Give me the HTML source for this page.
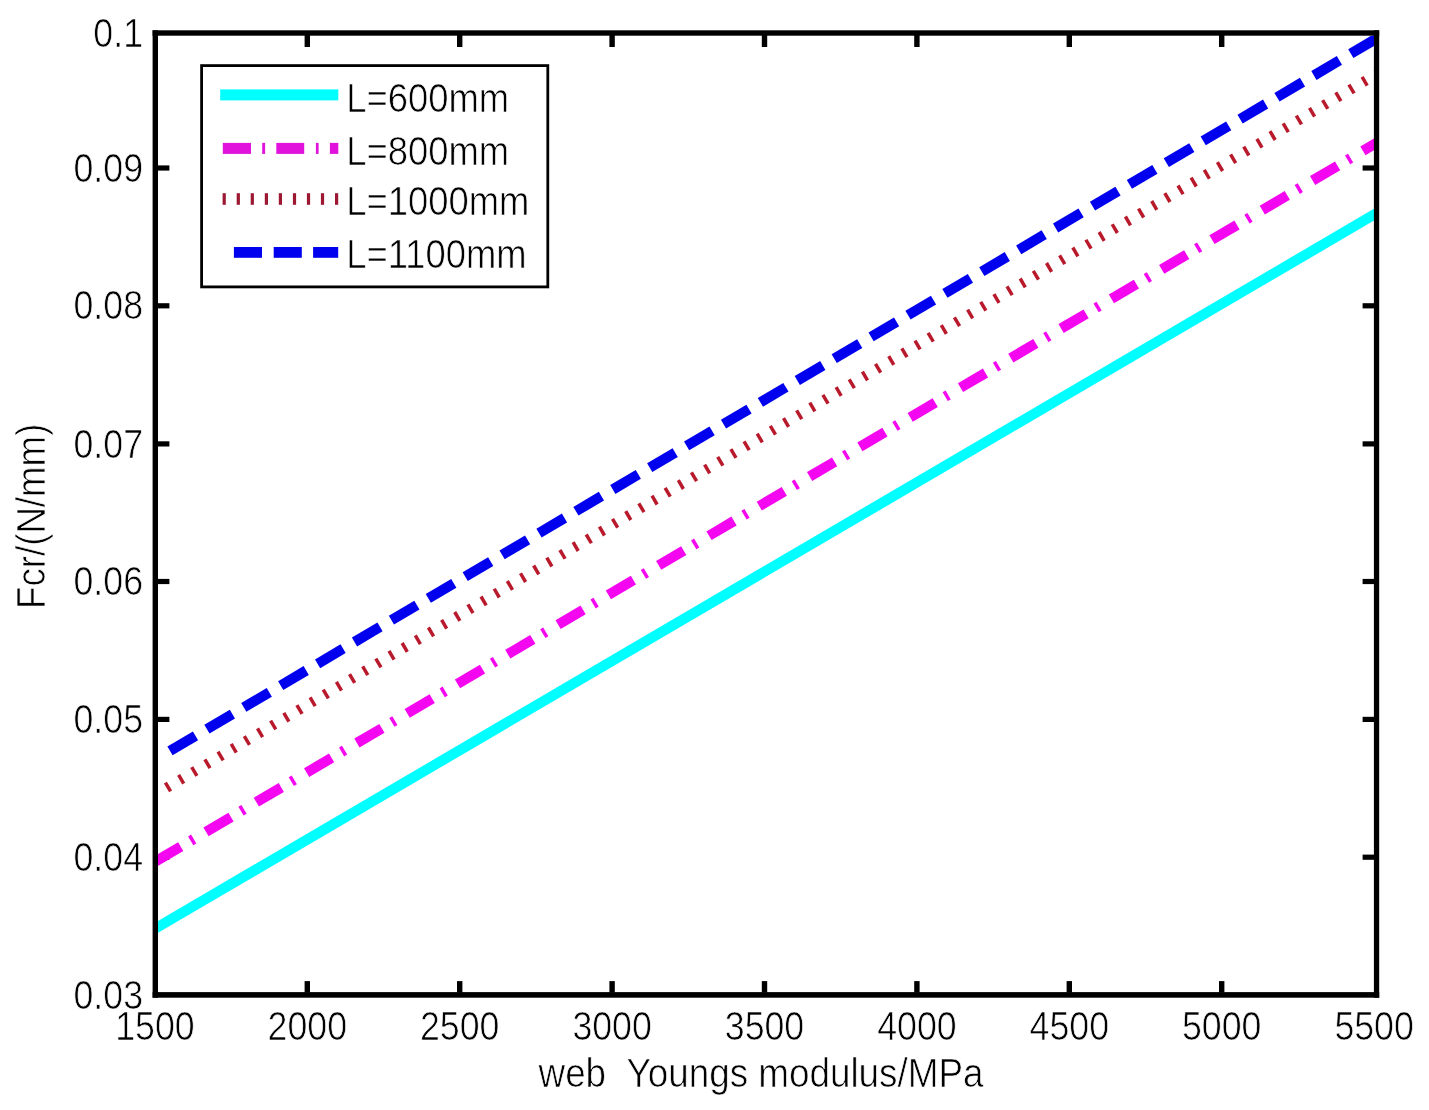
<!DOCTYPE html>
<html><head><meta charset="utf-8"><style>html,body{margin:0;padding:0;background:#fff;width:1429px;height:1110px;overflow:hidden}</style></head>
<body>
<svg width="1429" height="1110" viewBox="0 0 1429 1110" style="position:absolute;left:0;top:0;will-change:transform">
<rect x="0" y="0" width="1429" height="1110" fill="#fff"/>
<rect x="304.6" y="981.1" width="5.4" height="11.5" fill="#000"/>
<rect x="304.6" y="35" width="5.4" height="12" fill="#000"/>
<rect x="457.0" y="981.1" width="5.4" height="11.5" fill="#000"/>
<rect x="457.0" y="35" width="5.4" height="12" fill="#000"/>
<rect x="609.4" y="981.1" width="5.4" height="11.5" fill="#000"/>
<rect x="609.4" y="35" width="5.4" height="12" fill="#000"/>
<rect x="761.8" y="981.1" width="5.4" height="11.5" fill="#000"/>
<rect x="761.8" y="35" width="5.4" height="12" fill="#000"/>
<rect x="914.2" y="981.1" width="5.4" height="11.5" fill="#000"/>
<rect x="914.2" y="35" width="5.4" height="12" fill="#000"/>
<rect x="1066.6" y="981.1" width="5.4" height="11.5" fill="#000"/>
<rect x="1066.6" y="35" width="5.4" height="12" fill="#000"/>
<rect x="1219.0" y="981.1" width="5.4" height="11.5" fill="#000"/>
<rect x="1219.0" y="35" width="5.4" height="12" fill="#000"/>
<rect x="157" y="165.4" width="12.4" height="5.2" fill="#000"/>
<rect x="1362.6" y="165.4" width="12" height="5.2" fill="#000"/>
<rect x="157" y="303.2" width="12.4" height="5.2" fill="#000"/>
<rect x="1362.6" y="303.2" width="12" height="5.2" fill="#000"/>
<rect x="157" y="441.3" width="12.4" height="5.2" fill="#000"/>
<rect x="1362.6" y="441.3" width="12" height="5.2" fill="#000"/>
<rect x="157" y="578.9" width="12.4" height="5.2" fill="#000"/>
<rect x="1362.6" y="578.9" width="12" height="5.2" fill="#000"/>
<rect x="157" y="716.8" width="12.4" height="5.2" fill="#000"/>
<rect x="1362.6" y="716.8" width="12" height="5.2" fill="#000"/>
<rect x="157" y="854.6" width="12.4" height="5.2" fill="#000"/>
<rect x="1362.6" y="854.6" width="12" height="5.2" fill="#000"/>
<defs><clipPath id="ax"><rect x="158" y="35.6" width="1216" height="956.5"/></clipPath></defs><g clip-path="url(#ax)">
<polygon points="158.1,932.8 1379.1,217.6 1373.9,208.8 152.9,924.0" fill="#00ffff"/>
<polygon points="158.3,865.8 183.3,851.1 178.1,842.3 153.1,857.0" fill="#f406f0"/>
<polygon points="193.3,845.2 196.3,843.4 191.1,834.6 188.1,836.4" fill="#f406f0"/>
<polygon points="208.6,836.2 233.6,821.5 228.4,812.7 203.4,827.4" fill="#f406f0"/>
<polygon points="243.6,815.6 246.6,813.8 241.4,805.0 238.4,806.8" fill="#f406f0"/>
<polygon points="258.9,806.6 283.9,791.9 278.7,783.1 253.7,797.8" fill="#f406f0"/>
<polygon points="293.9,786.0 296.9,784.2 291.7,775.4 288.7,777.2" fill="#f406f0"/>
<polygon points="309.2,777.0 334.2,762.3 329.0,753.5 304.0,768.2" fill="#f406f0"/>
<polygon points="344.2,756.4 347.2,754.6 342.0,745.8 339.0,747.6" fill="#f406f0"/>
<polygon points="359.5,747.4 384.5,732.7 379.3,723.9 354.3,738.6" fill="#f406f0"/>
<polygon points="394.5,726.8 397.5,725.0 392.3,716.2 389.3,718.0" fill="#f406f0"/>
<polygon points="409.8,717.8 434.8,703.1 429.6,694.3 404.6,709.0" fill="#f406f0"/>
<polygon points="444.8,697.2 447.8,695.4 442.6,686.6 439.6,688.4" fill="#f406f0"/>
<polygon points="460.1,688.2 485.1,673.4 479.9,664.7 454.9,679.4" fill="#f406f0"/>
<polygon points="495.1,667.6 498.1,665.8 492.9,657.0 489.9,658.8" fill="#f406f0"/>
<polygon points="510.4,658.6 535.4,643.8 530.2,635.1 505.2,649.8" fill="#f406f0"/>
<polygon points="545.4,638.0 548.4,636.2 543.2,627.4 540.2,629.2" fill="#f406f0"/>
<polygon points="560.7,629.0 585.7,614.2 580.5,605.5 555.5,620.2" fill="#f406f0"/>
<polygon points="595.7,608.4 598.7,606.6 593.5,597.8 590.5,599.6" fill="#f406f0"/>
<polygon points="611.0,599.3 636.0,584.6 630.8,575.8 605.8,590.6" fill="#f406f0"/>
<polygon points="646.0,578.8 649.0,577.0 643.8,568.2 640.8,570.0" fill="#f406f0"/>
<polygon points="661.3,569.7 686.3,555.0 681.1,546.2 656.1,561.0" fill="#f406f0"/>
<polygon points="696.3,549.2 699.3,547.4 694.1,538.6 691.1,540.4" fill="#f406f0"/>
<polygon points="711.6,540.1 736.6,525.4 731.4,516.6 706.4,531.4" fill="#f406f0"/>
<polygon points="746.6,519.5 749.6,517.8 744.4,509.0 741.4,510.8" fill="#f406f0"/>
<polygon points="761.9,510.5 786.9,495.8 781.7,487.0 756.7,501.7" fill="#f406f0"/>
<polygon points="796.9,489.9 799.9,488.2 794.7,479.4 791.7,481.2" fill="#f406f0"/>
<polygon points="812.2,480.9 837.2,466.2 832.0,457.4 807.0,472.1" fill="#f406f0"/>
<polygon points="847.2,460.3 850.2,458.6 845.0,449.8 842.0,451.6" fill="#f406f0"/>
<polygon points="862.5,451.3 887.5,436.6 882.3,427.8 857.3,442.5" fill="#f406f0"/>
<polygon points="897.5,430.7 900.5,429.0 895.3,420.2 892.3,421.9" fill="#f406f0"/>
<polygon points="912.8,421.7 937.8,407.0 932.6,398.2 907.6,412.9" fill="#f406f0"/>
<polygon points="947.8,401.1 950.8,399.4 945.6,390.6 942.6,392.3" fill="#f406f0"/>
<polygon points="963.1,392.1 988.1,377.4 982.9,368.6 957.9,383.3" fill="#f406f0"/>
<polygon points="998.1,371.5 1001.1,369.8 995.9,361.0 992.9,362.7" fill="#f406f0"/>
<polygon points="1013.4,362.5 1038.4,347.8 1033.2,339.0 1008.2,353.7" fill="#f406f0"/>
<polygon points="1048.4,341.9 1051.4,340.2 1046.2,331.4 1043.2,333.1" fill="#f406f0"/>
<polygon points="1063.7,332.9 1088.7,318.2 1083.5,309.4 1058.5,324.1" fill="#f406f0"/>
<polygon points="1098.7,312.3 1101.7,310.5 1096.5,301.8 1093.5,303.5" fill="#f406f0"/>
<polygon points="1114.0,303.3 1139.0,288.6 1133.8,279.8 1108.8,294.5" fill="#f406f0"/>
<polygon points="1149.0,282.7 1152.0,280.9 1146.8,272.2 1143.8,273.9" fill="#f406f0"/>
<polygon points="1164.3,273.7 1189.3,259.0 1184.1,250.2 1159.1,264.9" fill="#f406f0"/>
<polygon points="1199.3,253.1 1202.3,251.3 1197.1,242.6 1194.1,244.3" fill="#f406f0"/>
<polygon points="1214.6,244.1 1239.6,229.4 1234.4,220.6 1209.4,235.3" fill="#f406f0"/>
<polygon points="1249.6,223.5 1252.6,221.7 1247.4,212.9 1244.4,214.7" fill="#f406f0"/>
<polygon points="1264.9,214.5 1289.9,199.8 1284.7,191.0 1259.7,205.7" fill="#f406f0"/>
<polygon points="1299.9,193.9 1302.9,192.1 1297.7,183.3 1294.7,185.1" fill="#f406f0"/>
<polygon points="1315.2,184.9 1340.2,170.2 1335.0,161.4 1310.0,176.1" fill="#f406f0"/>
<polygon points="1350.2,164.3 1353.2,162.5 1348.0,153.7 1345.0,155.5" fill="#f406f0"/>
<polygon points="1365.5,155.3 1379.1,147.3 1373.9,138.5 1360.3,146.5" fill="#f406f0"/>
<polygon points="169.1,792.3 172.1,790.5 166.9,781.7 163.9,783.5" fill="#b81a2c"/>
<polygon points="182.2,784.6 185.2,782.8 180.1,774.0 177.1,775.8" fill="#b81a2c"/>
<polygon points="195.4,776.8 198.4,775.0 193.2,766.2 190.2,768.0" fill="#b81a2c"/>
<polygon points="208.5,769.0 211.5,767.3 206.4,758.5 203.4,760.3" fill="#b81a2c"/>
<polygon points="221.7,761.3 224.7,759.5 219.5,750.7 216.5,752.5" fill="#b81a2c"/>
<polygon points="234.8,753.5 237.8,751.8 232.7,743.0 229.7,744.7" fill="#b81a2c"/>
<polygon points="248.0,745.8 251.0,744.0 245.8,735.2 242.8,737.0" fill="#b81a2c"/>
<polygon points="261.1,738.0 264.1,736.2 259.0,727.5 256.0,729.2" fill="#b81a2c"/>
<polygon points="274.3,730.3 277.3,728.5 272.1,719.7 269.1,721.5" fill="#b81a2c"/>
<polygon points="287.4,722.5 290.4,720.7 285.3,711.9 282.3,713.7" fill="#b81a2c"/>
<polygon points="300.6,714.8 303.6,713.0 298.4,704.2 295.4,706.0" fill="#b81a2c"/>
<polygon points="313.7,707.0 316.7,705.2 311.6,696.4 308.6,698.2" fill="#b81a2c"/>
<polygon points="326.9,699.2 329.9,697.5 324.7,688.7 321.7,690.5" fill="#b81a2c"/>
<polygon points="340.0,691.5 343.0,689.7 337.9,680.9 334.9,682.7" fill="#b81a2c"/>
<polygon points="353.2,683.7 356.2,682.0 351.0,673.2 348.0,674.9" fill="#b81a2c"/>
<polygon points="366.3,676.0 369.3,674.2 364.2,665.4 361.2,667.2" fill="#b81a2c"/>
<polygon points="379.5,668.2 382.5,666.4 377.3,657.7 374.3,659.4" fill="#b81a2c"/>
<polygon points="392.6,660.5 395.6,658.7 390.5,649.9 387.5,651.7" fill="#b81a2c"/>
<polygon points="405.8,652.7 408.8,650.9 403.6,642.1 400.6,643.9" fill="#b81a2c"/>
<polygon points="418.9,645.0 421.9,643.2 416.8,634.4 413.8,636.2" fill="#b81a2c"/>
<polygon points="432.1,637.2 435.1,635.4 429.9,626.6 426.9,628.4" fill="#b81a2c"/>
<polygon points="445.2,629.4 448.2,627.7 443.1,618.9 440.1,620.7" fill="#b81a2c"/>
<polygon points="458.4,621.7 461.4,619.9 456.2,611.1 453.2,612.9" fill="#b81a2c"/>
<polygon points="471.5,613.9 474.5,612.2 469.4,603.4 466.4,605.2" fill="#b81a2c"/>
<polygon points="484.7,606.2 487.7,604.4 482.5,595.6 479.5,597.4" fill="#b81a2c"/>
<polygon points="497.8,598.4 500.8,596.6 495.7,587.9 492.7,589.6" fill="#b81a2c"/>
<polygon points="511.0,590.7 514.0,588.9 508.8,580.1 505.8,581.9" fill="#b81a2c"/>
<polygon points="524.1,582.9 527.1,581.1 522.0,572.4 519.0,574.1" fill="#b81a2c"/>
<polygon points="537.3,575.2 540.3,573.4 535.1,564.6 532.1,566.4" fill="#b81a2c"/>
<polygon points="550.4,567.4 553.4,565.6 548.3,556.8 545.3,558.6" fill="#b81a2c"/>
<polygon points="563.6,559.6 566.6,557.9 561.4,549.1 558.4,550.9" fill="#b81a2c"/>
<polygon points="576.7,551.9 579.7,550.1 574.6,541.3 571.6,543.1" fill="#b81a2c"/>
<polygon points="589.9,544.1 592.9,542.4 587.7,533.6 584.7,535.4" fill="#b81a2c"/>
<polygon points="603.0,536.4 606.0,534.6 600.9,525.8 597.9,527.6" fill="#b81a2c"/>
<polygon points="616.2,528.6 619.2,526.8 614.0,518.1 611.0,519.8" fill="#b81a2c"/>
<polygon points="629.3,520.9 632.3,519.1 627.2,510.3 624.2,512.1" fill="#b81a2c"/>
<polygon points="642.5,513.1 645.5,511.3 640.3,502.6 637.3,504.3" fill="#b81a2c"/>
<polygon points="655.6,505.4 658.6,503.6 653.5,494.8 650.5,496.6" fill="#b81a2c"/>
<polygon points="668.8,497.6 671.8,495.8 666.6,487.0 663.6,488.8" fill="#b81a2c"/>
<polygon points="681.9,489.9 684.9,488.1 679.8,479.3 676.8,481.1" fill="#b81a2c"/>
<polygon points="695.1,482.1 698.1,480.3 692.9,471.5 689.9,473.3" fill="#b81a2c"/>
<polygon points="708.2,474.3 711.2,472.6 706.1,463.8 703.1,465.6" fill="#b81a2c"/>
<polygon points="721.4,466.6 724.4,464.8 719.2,456.0 716.2,457.8" fill="#b81a2c"/>
<polygon points="734.5,458.8 737.5,457.1 732.4,448.3 729.4,450.0" fill="#b81a2c"/>
<polygon points="747.7,451.1 750.7,449.3 745.5,440.5 742.5,442.3" fill="#b81a2c"/>
<polygon points="760.8,443.3 763.8,441.5 758.7,432.8 755.7,434.5" fill="#b81a2c"/>
<polygon points="774.0,435.6 777.0,433.8 771.8,425.0 768.8,426.8" fill="#b81a2c"/>
<polygon points="787.1,427.8 790.1,426.0 785.0,417.2 782.0,419.0" fill="#b81a2c"/>
<polygon points="800.3,420.1 803.3,418.3 798.1,409.5 795.1,411.3" fill="#b81a2c"/>
<polygon points="813.4,412.3 816.4,410.5 811.3,401.7 808.3,403.5" fill="#b81a2c"/>
<polygon points="826.6,404.5 829.6,402.8 824.4,394.0 821.4,395.8" fill="#b81a2c"/>
<polygon points="839.7,396.8 842.7,395.0 837.6,386.2 834.6,388.0" fill="#b81a2c"/>
<polygon points="852.9,389.0 855.9,387.3 850.7,378.5 847.7,380.2" fill="#b81a2c"/>
<polygon points="866.0,381.3 869.0,379.5 863.9,370.7 860.9,372.5" fill="#b81a2c"/>
<polygon points="879.2,373.5 882.2,371.7 877.0,363.0 874.0,364.7" fill="#b81a2c"/>
<polygon points="892.3,365.8 895.3,364.0 890.2,355.2 887.2,357.0" fill="#b81a2c"/>
<polygon points="905.5,358.0 908.5,356.2 903.3,347.4 900.3,349.2" fill="#b81a2c"/>
<polygon points="918.6,350.3 921.6,348.5 916.5,339.7 913.5,341.5" fill="#b81a2c"/>
<polygon points="931.8,342.5 934.8,340.7 929.6,331.9 926.6,333.7" fill="#b81a2c"/>
<polygon points="944.9,334.7 947.9,333.0 942.8,324.2 939.8,326.0" fill="#b81a2c"/>
<polygon points="958.1,327.0 961.1,325.2 955.9,316.4 952.9,318.2" fill="#b81a2c"/>
<polygon points="971.2,319.2 974.2,317.5 969.1,308.7 966.1,310.4" fill="#b81a2c"/>
<polygon points="984.4,311.5 987.4,309.7 982.2,300.9 979.2,302.7" fill="#b81a2c"/>
<polygon points="997.5,303.7 1000.5,301.9 995.4,293.2 992.4,294.9" fill="#b81a2c"/>
<polygon points="1010.7,296.0 1013.7,294.2 1008.5,285.4 1005.5,287.2" fill="#b81a2c"/>
<polygon points="1023.8,288.2 1026.8,286.4 1021.7,277.6 1018.7,279.4" fill="#b81a2c"/>
<polygon points="1037.0,280.5 1040.0,278.7 1034.8,269.9 1031.8,271.7" fill="#b81a2c"/>
<polygon points="1050.1,272.7 1053.1,270.9 1048.0,262.1 1045.0,263.9" fill="#b81a2c"/>
<polygon points="1063.3,264.9 1066.3,263.2 1061.1,254.4 1058.1,256.2" fill="#b81a2c"/>
<polygon points="1076.4,257.2 1079.4,255.4 1074.3,246.6 1071.3,248.4" fill="#b81a2c"/>
<polygon points="1089.6,249.4 1092.6,247.7 1087.4,238.9 1084.4,240.6" fill="#b81a2c"/>
<polygon points="1102.7,241.7 1105.7,239.9 1100.6,231.1 1097.6,232.9" fill="#b81a2c"/>
<polygon points="1115.9,233.9 1118.9,232.1 1113.7,223.4 1110.7,225.1" fill="#b81a2c"/>
<polygon points="1129.0,226.2 1132.0,224.4 1126.9,215.6 1123.9,217.4" fill="#b81a2c"/>
<polygon points="1142.2,218.4 1145.2,216.6 1140.0,207.8 1137.0,209.6" fill="#b81a2c"/>
<polygon points="1155.3,210.7 1158.3,208.9 1153.2,200.1 1150.2,201.9" fill="#b81a2c"/>
<polygon points="1168.5,202.9 1171.5,201.1 1166.3,192.3 1163.3,194.1" fill="#b81a2c"/>
<polygon points="1181.6,195.1 1184.6,193.4 1179.5,184.6 1176.5,186.4" fill="#b81a2c"/>
<polygon points="1194.8,187.4 1197.8,185.6 1192.6,176.8 1189.6,178.6" fill="#b81a2c"/>
<polygon points="1207.9,179.6 1210.9,177.9 1205.8,169.1 1202.8,170.8" fill="#b81a2c"/>
<polygon points="1221.1,171.9 1224.1,170.1 1218.9,161.3 1215.9,163.1" fill="#b81a2c"/>
<polygon points="1234.2,164.1 1237.2,162.3 1232.1,153.6 1229.1,155.3" fill="#b81a2c"/>
<polygon points="1247.4,156.4 1250.4,154.6 1245.2,145.8 1242.2,147.6" fill="#b81a2c"/>
<polygon points="1260.5,148.6 1263.5,146.8 1258.4,138.0 1255.4,139.8" fill="#b81a2c"/>
<polygon points="1273.7,140.9 1276.7,139.1 1271.5,130.3 1268.5,132.1" fill="#b81a2c"/>
<polygon points="1286.8,133.1 1289.8,131.3 1284.7,122.5 1281.7,124.3" fill="#b81a2c"/>
<polygon points="1300.0,125.3 1303.0,123.6 1297.8,114.8 1294.8,116.6" fill="#b81a2c"/>
<polygon points="1313.1,117.6 1316.1,115.8 1311.0,107.0 1308.0,108.8" fill="#b81a2c"/>
<polygon points="1326.3,109.8 1329.3,108.1 1324.1,99.3 1321.1,101.1" fill="#b81a2c"/>
<polygon points="1339.4,102.1 1342.4,100.3 1337.3,91.5 1334.3,93.3" fill="#b81a2c"/>
<polygon points="1352.6,94.3 1355.6,92.5 1350.4,83.8 1347.4,85.5" fill="#b81a2c"/>
<polygon points="1365.7,86.6 1368.7,84.8 1363.6,76.0 1360.6,77.8" fill="#b81a2c"/>
<polygon points="1378.9,78.8 1379.1,78.7 1373.9,69.9 1373.7,70.0" fill="#b81a2c"/>
<polygon points="172.6,755.3 198.1,740.3 192.9,731.5 167.4,746.5" fill="#0000ee"/>
<polygon points="209.5,733.5 235.0,718.5 229.8,709.7 204.3,724.8" fill="#0000ee"/>
<polygon points="246.4,711.8 271.9,696.7 266.7,687.9 241.2,703.0" fill="#0000ee"/>
<polygon points="283.3,690.0 308.8,674.9 303.6,666.1 278.1,681.2" fill="#0000ee"/>
<polygon points="320.2,668.2 345.7,653.1 340.5,644.3 315.0,659.4" fill="#0000ee"/>
<polygon points="357.1,646.4 382.6,631.3 377.4,622.5 351.9,637.6" fill="#0000ee"/>
<polygon points="394.0,624.6 419.5,609.5 414.3,600.8 388.8,615.8" fill="#0000ee"/>
<polygon points="430.9,602.8 456.4,587.8 451.2,579.0 425.7,594.0" fill="#0000ee"/>
<polygon points="467.8,581.0 493.3,566.0 488.1,557.2 462.6,572.2" fill="#0000ee"/>
<polygon points="504.7,559.2 530.2,544.2 525.0,535.4 499.5,550.4" fill="#0000ee"/>
<polygon points="541.6,537.4 567.1,522.4 561.9,513.6 536.4,528.7" fill="#0000ee"/>
<polygon points="578.5,515.6 604.0,500.6 598.8,491.8 573.3,506.9" fill="#0000ee"/>
<polygon points="615.4,493.9 640.9,478.8 635.7,470.0 610.2,485.1" fill="#0000ee"/>
<polygon points="652.3,472.1 677.8,457.0 672.6,448.2 647.1,463.3" fill="#0000ee"/>
<polygon points="689.2,450.3 714.7,435.2 709.5,426.4 684.0,441.5" fill="#0000ee"/>
<polygon points="726.1,428.5 751.6,413.4 746.4,404.7 720.9,419.7" fill="#0000ee"/>
<polygon points="763.0,406.7 788.5,391.6 783.3,382.9 757.8,397.9" fill="#0000ee"/>
<polygon points="799.9,384.9 825.4,369.9 820.2,361.1 794.7,376.1" fill="#0000ee"/>
<polygon points="836.8,363.1 862.3,348.1 857.1,339.3 831.6,354.3" fill="#0000ee"/>
<polygon points="873.7,341.3 899.2,326.3 894.0,317.5 868.5,332.5" fill="#0000ee"/>
<polygon points="910.6,319.5 936.1,304.5 930.9,295.7 905.4,310.8" fill="#0000ee"/>
<polygon points="947.5,297.8 973.0,282.7 967.8,273.9 942.3,289.0" fill="#0000ee"/>
<polygon points="984.4,276.0 1009.9,260.9 1004.7,252.1 979.2,267.2" fill="#0000ee"/>
<polygon points="1021.3,254.2 1046.8,239.1 1041.6,230.3 1016.1,245.4" fill="#0000ee"/>
<polygon points="1058.2,232.4 1083.7,217.3 1078.5,208.5 1053.0,223.6" fill="#0000ee"/>
<polygon points="1095.1,210.6 1120.6,195.5 1115.4,186.8 1089.9,201.8" fill="#0000ee"/>
<polygon points="1132.0,188.8 1157.5,173.8 1152.3,165.0 1126.8,180.0" fill="#0000ee"/>
<polygon points="1168.9,167.0 1194.4,152.0 1189.2,143.2 1163.7,158.2" fill="#0000ee"/>
<polygon points="1205.8,145.2 1231.3,130.2 1226.1,121.4 1200.6,136.4" fill="#0000ee"/>
<polygon points="1242.7,123.4 1268.2,108.4 1263.0,99.6 1237.5,114.7" fill="#0000ee"/>
<polygon points="1279.6,101.6 1305.1,86.6 1299.9,77.8 1274.4,92.9" fill="#0000ee"/>
<polygon points="1316.5,79.9 1342.0,64.8 1336.8,56.0 1311.3,71.1" fill="#0000ee"/>
<polygon points="1353.4,58.1 1378.9,43.0 1373.7,34.2 1348.2,49.3" fill="#0000ee"/>
</g>
<rect x="152.6" y="30.3" width="1226.6" height="5.4" fill="#000"/>
<rect x="152.6" y="992.1" width="1226.6" height="5.6" fill="#000"/>
<rect x="152.6" y="30.3" width="5.4" height="967.4" fill="#000"/>
<rect x="1373.9" y="30.3" width="5.3" height="967.4" fill="#000"/>
<text x="0" y="0" font-family="Liberation Sans, sans-serif" font-size="40.0" text-anchor="end" transform="translate(143.00,46.90) scale(0.893,1)" fill="#000" stroke="#fff" stroke-width="0.7" >0.1</text>
<text x="0" y="0" font-family="Liberation Sans, sans-serif" font-size="40.0" text-anchor="end" transform="translate(143.00,181.60) scale(0.893,1)" fill="#000" stroke="#fff" stroke-width="0.7" >0.09</text>
<text x="0" y="0" font-family="Liberation Sans, sans-serif" font-size="40.0" text-anchor="end" transform="translate(143.00,319.40) scale(0.893,1)" fill="#000" stroke="#fff" stroke-width="0.7" >0.08</text>
<text x="0" y="0" font-family="Liberation Sans, sans-serif" font-size="40.0" text-anchor="end" transform="translate(143.00,457.50) scale(0.893,1)" fill="#000" stroke="#fff" stroke-width="0.7" >0.07</text>
<text x="0" y="0" font-family="Liberation Sans, sans-serif" font-size="40.0" text-anchor="end" transform="translate(143.00,595.10) scale(0.893,1)" fill="#000" stroke="#fff" stroke-width="0.7" >0.06</text>
<text x="0" y="0" font-family="Liberation Sans, sans-serif" font-size="40.0" text-anchor="end" transform="translate(143.00,733.00) scale(0.893,1)" fill="#000" stroke="#fff" stroke-width="0.7" >0.05</text>
<text x="0" y="0" font-family="Liberation Sans, sans-serif" font-size="40.0" text-anchor="end" transform="translate(143.00,870.80) scale(0.893,1)" fill="#000" stroke="#fff" stroke-width="0.7" >0.04</text>
<text x="0" y="0" font-family="Liberation Sans, sans-serif" font-size="40.0" text-anchor="end" transform="translate(143.00,1009.20) scale(0.893,1)" fill="#000" stroke="#fff" stroke-width="0.7" >0.03</text>
<text x="0" y="0" font-family="Liberation Sans, sans-serif" font-size="40.0" text-anchor="middle" transform="translate(154.90,1039.60) scale(0.893,1)" fill="#000" stroke="#fff" stroke-width="0.7" >1500</text>
<text x="0" y="0" font-family="Liberation Sans, sans-serif" font-size="40.0" text-anchor="middle" transform="translate(307.30,1039.60) scale(0.893,1)" fill="#000" stroke="#fff" stroke-width="0.7" >2000</text>
<text x="0" y="0" font-family="Liberation Sans, sans-serif" font-size="40.0" text-anchor="middle" transform="translate(459.70,1039.60) scale(0.893,1)" fill="#000" stroke="#fff" stroke-width="0.7" >2500</text>
<text x="0" y="0" font-family="Liberation Sans, sans-serif" font-size="40.0" text-anchor="middle" transform="translate(612.10,1039.60) scale(0.893,1)" fill="#000" stroke="#fff" stroke-width="0.7" >3000</text>
<text x="0" y="0" font-family="Liberation Sans, sans-serif" font-size="40.0" text-anchor="middle" transform="translate(764.50,1039.60) scale(0.893,1)" fill="#000" stroke="#fff" stroke-width="0.7" >3500</text>
<text x="0" y="0" font-family="Liberation Sans, sans-serif" font-size="40.0" text-anchor="middle" transform="translate(916.90,1039.60) scale(0.893,1)" fill="#000" stroke="#fff" stroke-width="0.7" >4000</text>
<text x="0" y="0" font-family="Liberation Sans, sans-serif" font-size="40.0" text-anchor="middle" transform="translate(1069.30,1039.60) scale(0.893,1)" fill="#000" stroke="#fff" stroke-width="0.7" >4500</text>
<text x="0" y="0" font-family="Liberation Sans, sans-serif" font-size="40.0" text-anchor="middle" transform="translate(1221.70,1039.60) scale(0.893,1)" fill="#000" stroke="#fff" stroke-width="0.7" >5000</text>
<text x="0" y="0" font-family="Liberation Sans, sans-serif" font-size="40.0" text-anchor="middle" transform="translate(1374.10,1039.60) scale(0.893,1)" fill="#000" stroke="#fff" stroke-width="0.7" >5500</text>
<text x="0" y="0" font-family="Liberation Sans, sans-serif" font-size="40.0" text-anchor="middle" transform="translate(761.00,1087.00) scale(0.921,1)" fill="#000" stroke="#fff" stroke-width="0.7" >web&#160;&#160;Youngs modulus/MPa</text>
<text x="0" y="0" font-family="Liberation Sans, sans-serif" font-size="40.0" text-anchor="middle" transform="translate(45.3,516.3) rotate(-90) scale(0.917,1)" fill="#000" stroke="#fff" stroke-width="0.7">Fcr/(N/mm)</text>
<rect x="201.6" y="65.6" width="346.2" height="221.3" fill="#fff" stroke="#000" stroke-width="2.8"/>
<rect x="220.2" y="89.4" width="118.1" height="11" fill="#00ffff"/>
<rect x="222.8" y="142.9" width="28.2" height="11" fill="#e012dc"/>
<rect x="262.2" y="142.9" width="2.9" height="11" fill="#e012dc"/>
<rect x="276.3" y="142.9" width="27.9" height="11" fill="#e012dc"/>
<rect x="315.9" y="142.9" width="2.7" height="11" fill="#e012dc"/>
<rect x="329.9" y="142.9" width="8.4" height="11" fill="#e012dc"/>
<rect x="222.6" y="193.2" width="3.2" height="11.6" fill="#9c1832"/>
<rect x="236.7" y="193.2" width="3.2" height="11.6" fill="#9c1832"/>
<rect x="250.7" y="193.2" width="3.2" height="11.6" fill="#9c1832"/>
<rect x="264.8" y="193.2" width="3.2" height="11.6" fill="#9c1832"/>
<rect x="278.8" y="193.2" width="3.2" height="11.6" fill="#9c1832"/>
<rect x="292.9" y="193.2" width="3.2" height="11.6" fill="#9c1832"/>
<rect x="306.9" y="193.2" width="3.2" height="11.6" fill="#9c1832"/>
<rect x="320.9" y="193.2" width="3.2" height="11.6" fill="#9c1832"/>
<rect x="335.0" y="193.2" width="3.2" height="11.6" fill="#9c1832"/>
<rect x="233.9" y="247" width="28.1" height="10.8" fill="#0000ee"/>
<rect x="273.7" y="247" width="28.1" height="10.8" fill="#0000ee"/>
<rect x="313.1" y="247" width="25.1" height="10.8" fill="#0000ee"/>
<text x="0" y="0" font-family="Liberation Sans, sans-serif" font-size="40.0" text-anchor="start" transform="translate(346.20,111.80) scale(0.91,1)" fill="#000" stroke="#fff" stroke-width="0.7" >L=600mm</text>
<text x="0" y="0" font-family="Liberation Sans, sans-serif" font-size="40.0" text-anchor="start" transform="translate(346.20,164.60) scale(0.91,1)" fill="#000" stroke="#fff" stroke-width="0.7" >L=800mm</text>
<text x="0" y="0" font-family="Liberation Sans, sans-serif" font-size="40.0" text-anchor="start" transform="translate(346.20,215.40) scale(0.91,1)" fill="#000" stroke="#fff" stroke-width="0.7" >L=1000mm</text>
<text x="0" y="0" font-family="Liberation Sans, sans-serif" font-size="40.0" text-anchor="start" transform="translate(346.20,268.20) scale(0.91,1)" fill="#000" stroke="#fff" stroke-width="0.7" >L=1100mm</text>
</svg>
</body></html>
